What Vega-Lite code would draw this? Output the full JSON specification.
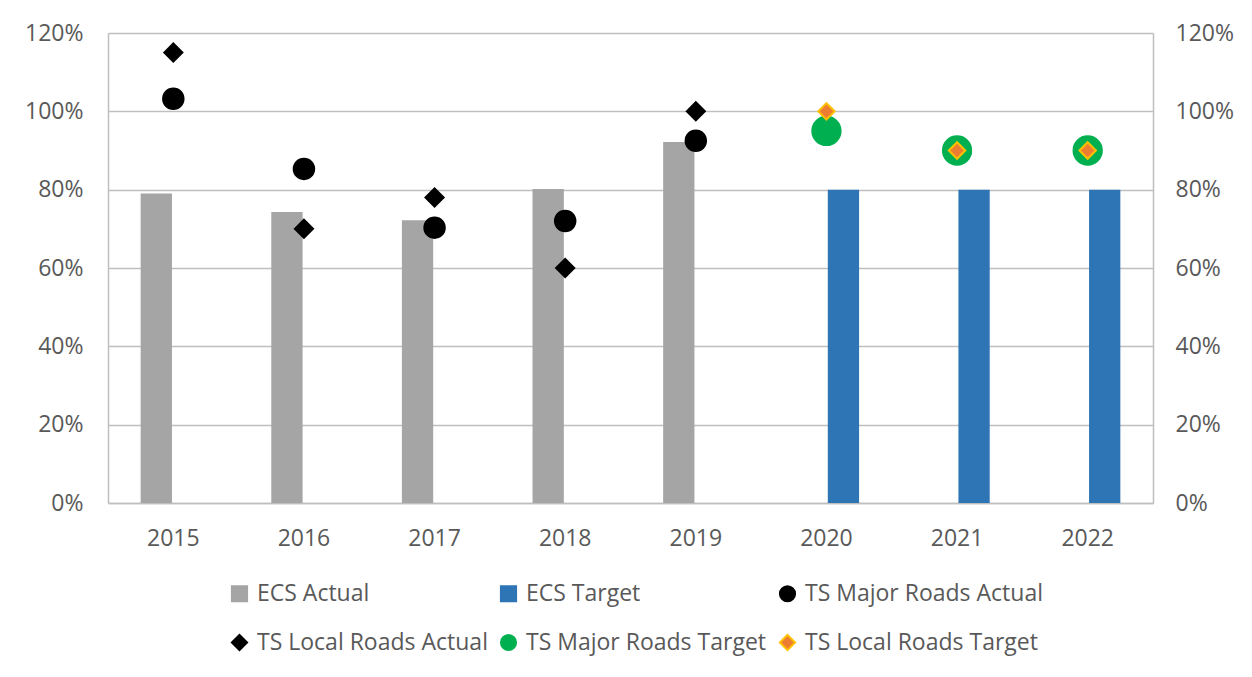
{
  "$schema": "https://vega.github.io/schema/vega-lite/v6.json",
  "width": 1045,
  "height": 470,
  "autosize": "none",
  "padding": {"left": 108, "top": 33, "right": 99, "bottom": 174},
  "background": "white",
  "config": {
    "font": "Open Sans",
    "view": {"stroke": null},
    "axis": {
      "domainColor": "#BFBFBF",
      "domainWidth": 1.5,
      "gridColor": "#BFBFBF",
      "gridWidth": 1.5,
      "ticks": false,
      "labelFont": "Open Sans",
      "labelFontSize": 23,
      "labelColor": "#595959",
      "title": null
    },
    "legend": {
      "labelFont": "Open Sans",
      "labelFontSize": 23,
      "labelColor": "#595959",
      "labelLimit": 400,
      "symbolSize": 230,
      "symbolStrokeWidth": 2,
      "padding": 0
    }
  },
  "data": {
    "values": [
      {"year": "2015", "series": "ECS Actual", "value": 0.79},
      {"year": "2016", "series": "ECS Actual", "value": 0.743},
      {"year": "2017", "series": "ECS Actual", "value": 0.722},
      {"year": "2018", "series": "ECS Actual", "value": 0.802},
      {"year": "2019", "series": "ECS Actual", "value": 0.922},
      {"year": "2020", "series": "ECS Target", "value": 0.8},
      {"year": "2021", "series": "ECS Target", "value": 0.8},
      {"year": "2022", "series": "ECS Target", "value": 0.8},
      {"year": "2015", "series": "TS Major Roads Actual", "value": 1.032},
      {"year": "2016", "series": "TS Major Roads Actual", "value": 0.853},
      {"year": "2017", "series": "TS Major Roads Actual", "value": 0.703},
      {"year": "2018", "series": "TS Major Roads Actual", "value": 0.72},
      {"year": "2019", "series": "TS Major Roads Actual", "value": 0.925},
      {"year": "2015", "series": "TS Local Roads Actual", "value": 1.15},
      {"year": "2016", "series": "TS Local Roads Actual", "value": 0.7},
      {"year": "2017", "series": "TS Local Roads Actual", "value": 0.78},
      {"year": "2018", "series": "TS Local Roads Actual", "value": 0.6},
      {"year": "2019", "series": "TS Local Roads Actual", "value": 1.0},
      {"year": "2020", "series": "TS Major Roads Target", "value": 0.95},
      {"year": "2021", "series": "TS Major Roads Target", "value": 0.9},
      {"year": "2022", "series": "TS Major Roads Target", "value": 0.9},
      {"year": "2020", "series": "TS Local Roads Target", "value": 1.0},
      {"year": "2021", "series": "TS Local Roads Target", "value": 0.9},
      {"year": "2022", "series": "TS Local Roads Target", "value": 0.9}
    ]
  },
  "encoding": {
    "x": {
      "field": "year",
      "type": "nominal",
      "scale": {"paddingInner": 0.5, "paddingOuter": 0.25},
      "axis": {"labelAngle": 0, "labelPadding": 24, "domain": true}
    }
  },
  "layer": [
    {
      "transform": [{"filter": "indexof(datum.series, 'ECS') == 0"}],
      "mark": {"type": "bar"},
      "encoding": {
        "xOffset": {
          "field": "series",
          "type": "nominal",
          "scale": {"domain": ["ECS Actual", "ECS Target"], "paddingInner": 0.08}
        },
        "y": {
          "field": "value",
          "type": "quantitative",
          "scale": {"domain": [0, 1.2], "nice": false},
          "axis": {
            "orient": "left",
            "values": [0, 0.2, 0.4, 0.6, 0.8, 1.0, 1.2],
            "format": ".0%",
            "grid": true,
            "domain": true,
            "labelPadding": 25
          }
        },
        "color": {
          "field": "series",
          "type": "nominal",
          "scale": {
            "domain": ["ECS Actual", "ECS Target", "TS Major Roads Actual", "TS Local Roads Actual", "TS Major Roads Target", "TS Local Roads Target"],
            "range": ["#A5A5A5", "#2E75B6", "#000000", "#000000", "#00B050", "#ED7D31"]
          },
          "legend": {"title": null, "orient": "none", "direction": "horizontal", "legendX": 120, "legendY": 549, "columns": 3, "columnPadding": 8, "rowPadding": 24, "gridAlign": "each", "labelOffset": 6}
        }
      }
    },
    {
      "transform": [{"filter": "indexof(datum.series, 'TS') == 0"}],
      "mark": {"type": "point", "filled": true, "strokeWidth": 2, "opacity": 1},
      "encoding": {
        "y": {
          "field": "value",
          "type": "quantitative",
          "scale": {"domain": [0, 1.2], "nice": false},
          "axis": {
            "orient": "right",
            "values": [0, 0.2, 0.4, 0.6, 0.8, 1.0, 1.2],
            "format": ".0%",
            "grid": false,
            "domain": true,
            "labelPadding": 22
          }
        },
        "color": {
          "field": "series",
          "type": "nominal",
          "scale": {
            "domain": ["ECS Actual", "ECS Target", "TS Major Roads Actual", "TS Local Roads Actual", "TS Major Roads Target", "TS Local Roads Target"],
            "range": ["#A5A5A5", "#2E75B6", "#000000", "#000000", "#00B050", "#ED7D31"]
          },
          "legend": {"title": null, "orient": "none", "direction": "horizontal", "legendX": 120, "legendY": 549, "columns": 3, "columnPadding": 8, "rowPadding": 24, "gridAlign": "each", "labelOffset": 6}
        },
        "stroke": {
          "field": "series",
          "type": "nominal",
          "scale": {
            "domain": ["ECS Actual", "ECS Target", "TS Major Roads Actual", "TS Local Roads Actual", "TS Major Roads Target", "TS Local Roads Target"],
            "range": ["#A5A5A5", "#2E75B6", "#000000", "#000000", "#00B050", "#FFC000"]
          },
          "legend": {"title": null, "orient": "none", "direction": "horizontal", "legendX": 120, "legendY": 549, "columns": 3, "columnPadding": 8, "rowPadding": 24, "gridAlign": "each", "labelOffset": 6}
        },
        "shape": {
          "field": "series",
          "type": "nominal",
          "scale": {
            "domain": ["ECS Actual", "ECS Target", "TS Major Roads Actual", "TS Local Roads Actual", "TS Major Roads Target", "TS Local Roads Target"],
            "range": ["square", "square", "circle", "diamond", "circle", "diamond"]
          },
          "legend": {"title": null, "orient": "none", "direction": "horizontal", "legendX": 120, "legendY": 549, "columns": 3, "columnPadding": 8, "rowPadding": 24, "gridAlign": "each", "labelOffset": 6}
        },
        "size": {
          "field": "series",
          "type": "nominal",
          "scale": {
            "type": "ordinal",
            "domain": ["TS Major Roads Actual", "TS Local Roads Actual", "TS Major Roads Target", "TS Local Roads Target"],
            "range": [420, 330, 800, 270]
          },
          "legend": null
        }
      }
    }
  ],
  "resolve": {"axis": {"y": "independent"}}
}
